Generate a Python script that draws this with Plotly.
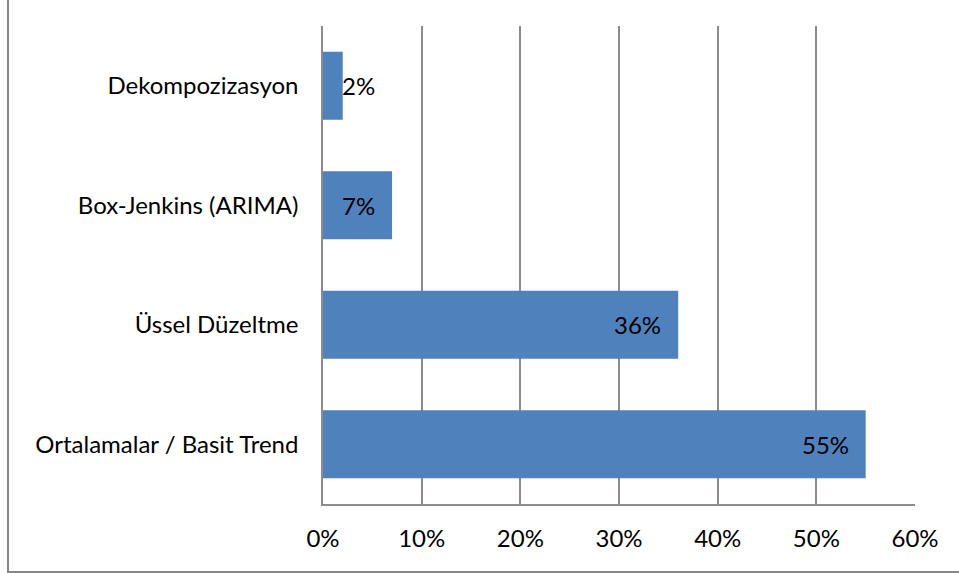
import plotly.graph_objects as go

# Forecasting methods and their usage shares (percent)
methods = ["Dekompozizasyon", "Box-Jenkins (ARIMA)", "Üssel Düzeltme", "Ortalamalar / Basit Trend"]
shares = [2, 7, 36, 55]
tick_values = [0, 10, 20, 30, 40, 50, 60]
tick_labels = ["0%", "10%", "20%", "30%", "40%", "50%", "60%"]

BAR_COLOR = "#4f81bd"
GRID_COLOR = "#8c8c8c"
FONT = "Lato"
FS = 24

fig = go.Figure(
    go.Bar(
        x=shares,
        y=methods,
        orientation="h",
        marker=dict(color=BAR_COLOR, line=dict(width=0)),
        hoverinfo="skip",
    )
)

# value labels at the inner end of each bar (short bars get the label just past the end)
for m, v in zip(methods, shares):
    if v < 5:
        fig.add_annotation(x=v, y=m, text=f"{v}%", showarrow=False,
                           xanchor="left", xshift=-3,
                           font=dict(family=FONT, size=FS, color="black"))
    else:
        fig.add_annotation(x=v, y=m, text=f"{v}%", showarrow=False,
                           xanchor="right", xshift=-15,
                           font=dict(family=FONT, size=FS, color="black"))

W, H = 959, 573
L, R, T, B = 323, 44, 26, 69
pw, ph = W - L - R, H - T - B

# outer chart border
fig.add_shape(type="rect", xref="paper", yref="paper",
              x0=(8 - L) / pw, x1=1.3, y0=-(572 - (H - B)) / ph, y1=1.3,
              line=dict(color="#878787", width=2), fillcolor="rgba(0,0,0,0)", layer="below")

fig.update_layout(
    width=W, height=H,
    margin=dict(l=L, r=R, t=T, b=B, pad=0),
    paper_bgcolor="white", plot_bgcolor="white",
    bargap=0.43,
    showlegend=False,
    font=dict(family=FONT, size=FS, color="black"),
    xaxis=dict(
        range=[0, 60], tickvals=tick_values, ticktext=tick_labels,
        showgrid=True, gridcolor=GRID_COLOR, gridwidth=1.5,
        zeroline=False, showline=True, linecolor=GRID_COLOR, linewidth=1.5,
        ticks="", ticklabelstandoff=12, fixedrange=True,
        tickfont=dict(family=FONT, size=FS, color="black"),
    ),
    yaxis=dict(
        autorange="reversed", showgrid=False, zeroline=False,
        showline=True, linecolor=GRID_COLOR, linewidth=1.5,
        ticks="", ticklabelstandoff=18, fixedrange=True,
        tickfont=dict(family=FONT, size=FS, color="black"),
    ),
)

fig.write_html("out.html")
